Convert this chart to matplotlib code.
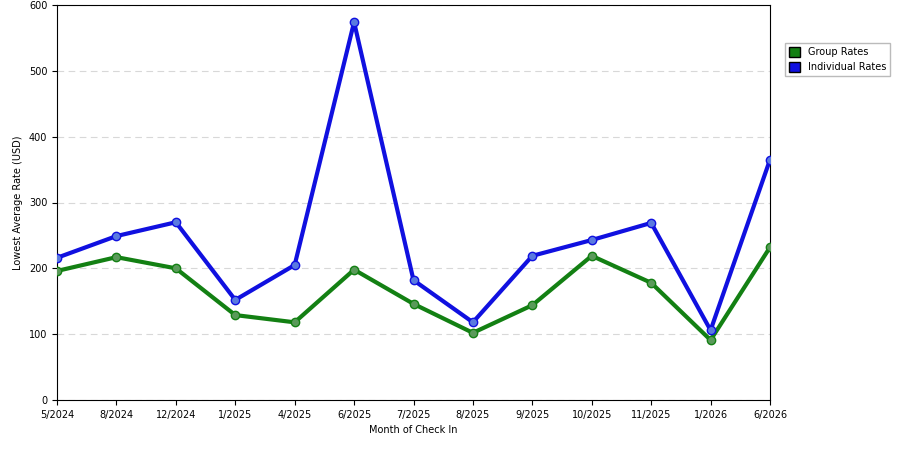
import matplotlib
matplotlib.use("Agg")
import matplotlib.pyplot as plt
from matplotlib.patches import Patch

months = ["5/2024", "8/2024", "12/2024", "1/2025", "4/2025", "6/2025", "7/2025",
          "8/2025", "9/2025", "10/2025", "11/2025", "1/2026", "6/2026"]
group = [196, 217, 200, 129, 118, 198, 146, 102, 144, 219, 178, 91, 232]
individual = [216, 249, 270, 152, 205, 574, 182, 118, 219, 243, 269, 106, 365]

fig = plt.figure(figsize=(9, 4.5), dpi=100)
ax = fig.add_axes([57/900, 50/450, 713/900, 395/450])
x = range(len(months))
ax.plot(x, group, color="#138013", lw=3, marker="o", ms=6, mfc="#5a9a5a", mec="#138013", zorder=3)
ax.plot(x, individual, color="#1010e0", lw=3, marker="o", ms=6, mfc="#5a7ae0", mec="#1010e0", zorder=3)
ax.set_xlim(0, len(months) - 1)
ax.set_ylim(0, 600)
ax.set_xticks(list(x))
ax.set_xticklabels(months, fontsize=7)
ax.set_yticks(range(0, 601, 100))
ax.tick_params(axis="y", labelsize=7)
ax.yaxis.grid(True, ls=(0, (6, 4)), color="#d8d8d8", lw=0.8)
ax.set_axisbelow(True)
ax.set_xlabel("Month of Check In", fontsize=7)
ax.set_ylabel("Lowest Average Rate (USD)", fontsize=7)
handles = [Patch(facecolor="#138013", edgecolor="black", label="Group Rates"),
           Patch(facecolor="#1010e0", edgecolor="black", label="Individual Rates")]
fig.legend(handles=handles, loc="upper left", bbox_to_anchor=(780/900, 1 - 38/450),
           fontsize=7, frameon=True, fancybox=False, edgecolor="#aaaaaa",
           handlelength=1.2, handleheight=1.2)
fig.savefig("out.png")
